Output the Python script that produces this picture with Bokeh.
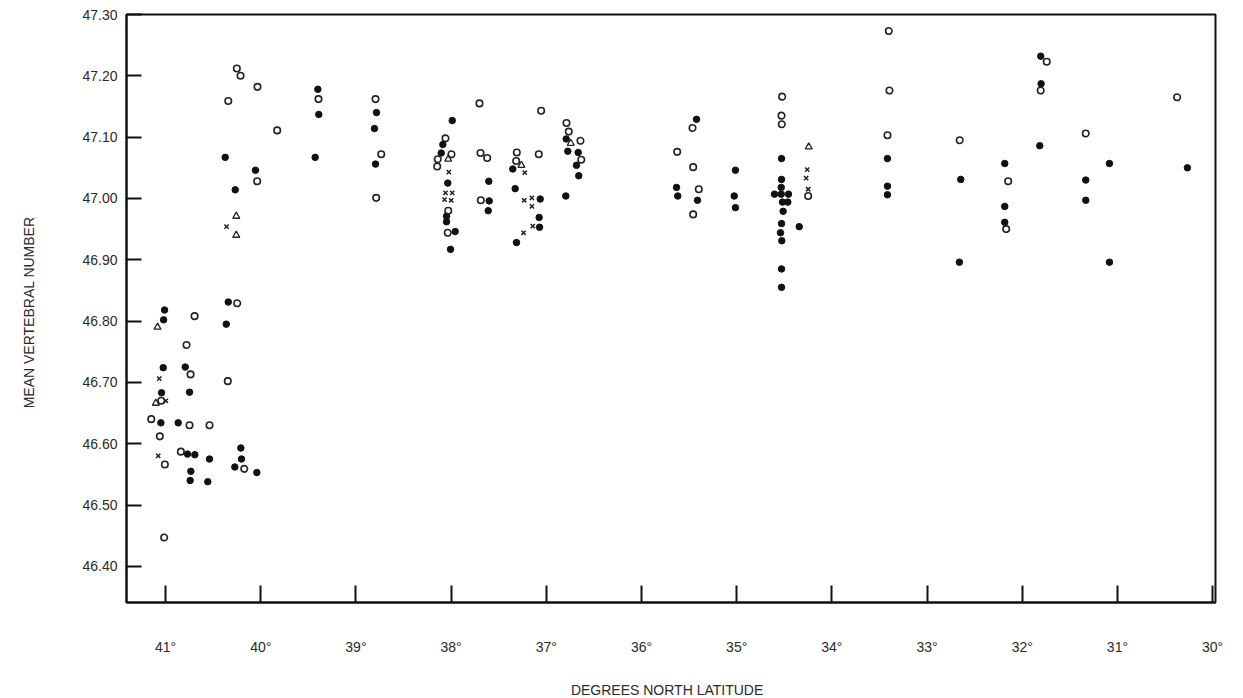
from bokeh.plotting import figure
from bokeh.models import Range1d, FixedTicker
from bokeh.embed import file_html
from bokeh.resources import INLINE

# ---- data (degrees north latitude, mean vertebral number) ----
filled_lat = [41.01, 41.02, 40.362, 40.341, 41.024, 40.793, 41.042, 40.748, 41.049, 40.867,
              40.209, 40.769, 40.692, 40.538, 40.202, 40.272, 40.041, 40.734, 40.741, 40.556,
              40.373, 40.055, 40.268, 39.40, 39.39, 39.428, 38.784, 38.805, 38.794, 37.988,
              38.087, 38.104, 38.035, 38.048, 38.048, 37.957, 38.006, 37.604, 37.60, 37.61,
              37.352, 37.327, 37.064, 37.075, 37.071, 37.313, 36.791, 36.774, 36.665, 36.683,
              36.659, 36.795, 35.422, 35.632, 35.619, 35.412, 35.013, 35.026, 35.013, 34.529,
              34.529, 34.532, 34.603, 34.532, 34.456, 34.519, 34.463, 34.512, 34.529, 34.54,
              34.526, 34.529, 34.529, 34.343, 33.416, 33.416, 33.416, 32.646, 32.66, 32.184,
              32.184, 32.184, 31.806, 31.802, 31.816, 31.333, 31.333, 31.084, 31.084, 30.265]
filled_val = [46.818, 46.802, 46.795, 46.831, 46.724, 46.725, 46.683, 46.684, 46.634, 46.634,
              46.593, 46.583, 46.582, 46.575, 46.575, 46.562, 46.553, 46.555, 46.540, 46.538,
              47.067, 47.046, 47.014, 47.178, 47.137, 47.067, 47.140, 47.114, 47.056, 47.127,
              47.088, 47.074, 47.025, 46.971, 46.962, 46.946, 46.917, 47.028, 46.996, 46.980,
              47.048, 47.016, 46.999, 46.969, 46.953, 46.928, 47.097, 47.077, 47.075, 47.054,
              47.037, 47.004, 47.129, 47.018, 47.004, 46.997, 47.046, 47.004, 46.985, 47.065,
              47.031, 47.018, 47.007, 47.007, 47.007, 46.994, 46.994, 46.979, 46.959, 46.944,
              46.931, 46.885, 46.855, 46.954, 47.065, 47.020, 47.006, 47.031, 46.896, 47.057,
              46.987, 46.961, 47.232, 47.187, 47.086, 47.030, 46.997, 47.057, 46.896, 47.050]

open_lat = [40.695, 40.247, 40.779, 40.737, 40.346, 41.045, 41.15, 40.748, 40.538, 41.06,
            40.839, 41.007, 40.173, 41.014, 40.251, 40.212, 40.034, 40.341, 39.827, 40.037,
            39.393, 38.794, 38.734, 38.787, 37.702, 37.054, 36.788, 36.764, 36.641, 36.633,
            38.059, 37.996, 38.14, 38.146, 38.03, 38.035, 37.691, 37.621, 37.688, 37.31,
            37.316, 37.079, 35.464, 35.625, 35.457, 35.398, 35.457, 34.522, 34.529, 34.526,
            34.249, 33.402, 33.395, 33.416, 32.657, 32.148, 32.169, 31.743, 31.806, 31.333,
            30.373]
open_val = [46.808, 46.829, 46.761, 46.713, 46.702, 46.670, 46.640, 46.630, 46.630, 46.612,
            46.587, 46.566, 46.559, 46.447, 47.212, 47.200, 47.182, 47.159, 47.111, 47.028,
            47.162, 47.162, 47.072, 47.001, 47.155, 47.143, 47.123, 47.109, 47.094, 47.063,
            47.098, 47.072, 47.064, 47.052, 46.980, 46.944, 47.074, 47.066, 46.997, 47.075,
            47.061, 47.072, 47.115, 47.076, 47.051, 47.015, 46.974, 47.166, 47.135, 47.121,
            47.004, 47.273, 47.176, 47.103, 47.095, 47.028, 46.950, 47.223, 47.176, 47.106,
            47.165]

tri_lat = [41.084, 40.257, 40.257, 41.102, 36.743, 38.03, 37.261, 34.243]
tri_val = [46.790, 46.971, 46.940, 46.666, 47.090, 47.064, 47.054, 47.084]

x_lat = [41.066, 40.997, 41.077, 40.359, 38.024, 38.059, 37.988, 38.069, 37.999, 37.226,
         37.232, 37.152, 37.152, 37.142, 37.239, 34.259, 34.27, 34.249]
x_val = [46.706, 46.670, 46.580, 46.954, 47.043, 47.009, 47.009, 46.998, 46.997, 47.042,
         46.997, 47.001, 46.987, 46.955, 46.944, 47.047, 47.033, 47.015]

x_ticks = [41, 40, 39, 38, 37, 36, 35, 34, 33, 32, 31, 30]
x_tick_labels = ["41°", "40°", "39°", "38°", "37°", "36°", "35°", "34°", "33°", "32°", "31°", "30°"]
y_ticks = [46.4, 46.5, 46.6, 46.7, 46.8, 46.9, 47.0, 47.1, 47.2, 47.3]
y_tick_labels = ["46.40", "46.50", "46.60", "46.70", "46.80", "46.90", "47.00", "47.10", "47.20", "47.30"]

FONT = "Liberation Sans"
TXT = "#2a2a2a"

p = figure(frame_width=1089, frame_height=588, output_backend="svg", toolbar_location=None,
           x_range=Range1d(41.41, 29.97), y_range=Range1d(46.341, 47.30),
           min_border_left=126, min_border_top=14, min_border_right=20, min_border_bottom=94)
p.xgrid.visible = False
p.ygrid.visible = False
p.background_fill_color = "white"
p.border_fill_color = "white"
p.outline_line_color = "#111111"
p.outline_line_width = 2

p.scatter(filled_lat, filled_val, marker="circle", size=6.5, fill_color="#111111", line_color="#111111")
p.scatter(open_lat, open_val, marker="circle", size=6.5, fill_color=None, line_color="#222222", line_width=1.6)
p.scatter(tri_lat, tri_val, marker="triangle", size=7, fill_color=None, line_color="#222222", line_width=1.3)
p.scatter(x_lat, x_val, marker="x", size=6, line_color="#222222", line_width=1.5)

for ax in (p.xaxis[0], p.yaxis[0]):
    ax.axis_line_width = 2
    ax.axis_line_color = "#111111"
    ax.major_tick_line_color = "#111111"
    ax.major_tick_line_width = 2
    ax.minor_tick_line_color = None
    ax.major_tick_out = 0
    ax.major_label_text_font = FONT
    ax.major_label_text_font_size = "14px"
    ax.major_label_text_color = TXT
    ax.axis_label_text_font = FONT
    ax.axis_label_text_font_size = "14px"
    ax.axis_label_text_font_style = "normal"
    ax.axis_label_text_color = TXT

p.xaxis.ticker = FixedTicker(ticks=x_ticks)
p.xaxis.major_label_overrides = dict(zip(x_ticks, x_tick_labels))
p.xaxis.major_tick_in = 17
p.xaxis.major_label_standoff = 36
p.xaxis.axis_label = "DEGREES  NORTH  LATITUDE"
p.xaxis.axis_label_standoff = 24

p.yaxis.ticker = FixedTicker(ticks=y_ticks)
p.yaxis.major_label_overrides = dict(zip(y_ticks, y_tick_labels))
p.yaxis.major_tick_in = 15
p.yaxis.major_label_standoff = 9
p.yaxis.axis_label = "MEAN  VERTEBRAL  NUMBER"
p.yaxis.axis_label_standoff = 42

open("out.html", "w").write(file_html(p, INLINE))
